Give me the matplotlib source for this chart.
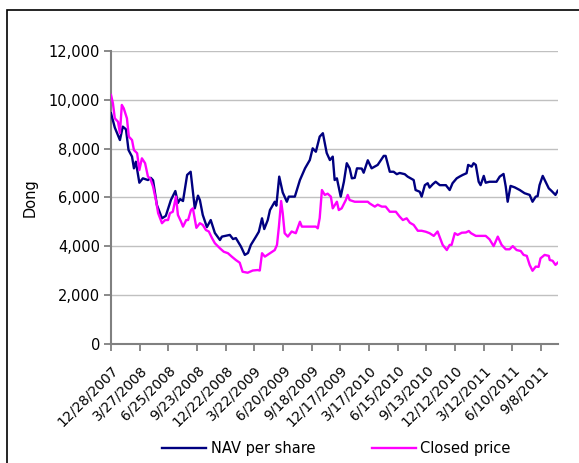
import pandas as pd
import matplotlib
matplotlib.use("Agg")
import matplotlib.pyplot as plt
from matplotlib.ticker import FuncFormatter
from matplotlib.patches import Rectangle
from matplotlib.transforms import ScaledTranslation

# NAV per share (date, Dong)
nav_dates = [
    "2007-12-28", "2008-01-09", "2008-01-25", "2008-02-03", "2008-02-13", "2008-02-21",
    "2008-03-03", "2008-03-09", "2008-03-15", "2008-03-26", "2008-04-06", "2008-04-22",
    "2008-05-01", "2008-05-08", "2008-05-20", "2008-06-05", "2008-06-17", "2008-07-03",
    "2008-07-17", "2008-07-25", "2008-08-01", "2008-08-10", "2008-08-23", "2008-09-03",
    "2008-09-16", "2008-09-26", "2008-10-02", "2008-10-11", "2008-10-24", "2008-11-05",
    "2008-11-18", "2008-12-04", "2008-12-10", "2009-01-04", "2009-01-14", "2009-01-23",
    "2009-02-08", "2009-02-20", "2009-03-02", "2009-03-11", "2009-03-27", "2009-04-05",
    "2009-04-15", "2009-04-22", "2009-05-03", "2009-05-10", "2009-05-25", "2009-05-30",
    "2009-06-08", "2009-06-19", "2009-07-02", "2009-07-08", "2009-07-27", "2009-08-12",
    "2009-08-28", "2009-09-12", "2009-09-21", "2009-10-01", "2009-10-13", "2009-10-23",
    "2009-11-04", "2009-11-14", "2009-11-23", "2009-11-29", "2009-12-06", "2009-12-18",
    "2009-12-28", "2010-01-06", "2010-01-15", "2010-01-22", "2010-01-31", "2010-02-07",
    "2010-02-22", "2010-02-28", "2010-03-13", "2010-03-25", "2010-04-13", "2010-05-02",
    "2010-05-08", "2010-05-21", "2010-06-02", "2010-06-12", "2010-06-21", "2010-07-07",
    "2010-07-16", "2010-08-04", "2010-08-10", "2010-08-23", "2010-08-29", "2010-09-08",
    "2010-09-17", "2010-09-23", "2010-10-03", "2010-10-12", "2010-10-25", "2010-11-13",
    "2010-11-25", "2010-12-04", "2010-12-17", "2010-12-26", "2011-01-05", "2011-01-17",
    "2011-01-22", "2011-02-02", "2011-02-08", "2011-02-15", "2011-02-24", "2011-03-02",
    "2011-03-12", "2011-03-18", "2011-03-30", "2011-04-21", "2011-05-01", "2011-05-13",
    "2011-05-20", "2011-05-26", "2011-06-04", "2011-06-17", "2011-07-03", "2011-07-18",
    "2011-08-03", "2011-08-12", "2011-08-22", "2011-08-28", "2011-09-03", "2011-09-13",
    "2011-09-22", "2011-10-02", "2011-10-11", "2011-10-23", "2011-10-30",
]
nav_values = [
    9450, 8860, 8350, 8900, 8790, 7940,
    7670, 7190, 7460, 6600, 6780, 6710,
    6800, 6700, 5690, 5140, 5240, 5890,
    6260, 5770, 5930, 5850, 6920, 7050,
    5550, 6070, 5890, 5280, 4780, 5070,
    4540, 4250, 4390, 4460, 4290, 4330,
    3980, 3640, 3720, 4050, 4390, 4590,
    5140, 4700, 5070, 5480, 5820, 5660,
    6850, 6200, 5820, 6030, 6030, 6710,
    7190, 7530, 8010, 7870, 8490, 8630,
    7820, 7530, 7670, 6710, 6780, 6030,
    6640, 7400, 7190, 6780, 6800, 7190,
    7180, 7010, 7520, 7190, 7330, 7700,
    7700, 7050, 7050, 6950, 7000, 6950,
    6850, 6710, 6300, 6230, 6030, 6500,
    6580, 6400, 6540, 6640, 6500, 6500,
    6300, 6580, 6780, 6850, 6920, 6990,
    7330, 7260, 7400, 7330, 6640, 6500,
    6880, 6600, 6640, 6640, 6850, 6960,
    6440, 5820, 6470, 6410, 6300, 6170,
    6100, 5820, 6030, 6050, 6500, 6880,
    6640, 6370, 6260, 6100, 6270,
]

# Closed price (date, Dong)
price_dates = [
    "2007-12-28", "2008-01-03", "2008-01-09", "2008-01-19", "2008-01-25", "2008-01-31",
    "2008-02-06", "2008-02-16", "2008-02-22", "2008-03-03", "2008-03-09", "2008-03-19",
    "2008-03-26", "2008-04-03", "2008-04-13", "2008-04-22", "2008-04-29", "2008-05-08",
    "2008-05-17", "2008-05-24", "2008-06-05", "2008-06-15", "2008-06-24", "2008-06-30",
    "2008-07-09", "2008-07-19", "2008-07-25", "2008-08-04", "2008-08-10", "2008-08-20",
    "2008-08-26", "2008-09-04", "2008-09-10", "2008-09-21", "2008-10-02", "2008-10-11",
    "2008-10-21", "2008-10-30", "2008-11-09", "2008-11-18", "2008-12-04", "2008-12-16",
    "2008-12-29", "2009-01-10", "2009-01-23", "2009-02-04", "2009-02-13", "2009-03-01",
    "2009-03-17", "2009-04-01", "2009-04-08", "2009-04-15", "2009-04-24", "2009-05-10",
    "2009-05-25", "2009-06-01", "2009-06-07", "2009-06-14", "2009-06-19", "2009-06-25",
    "2009-07-05", "2009-07-17", "2009-07-30", "2009-08-12", "2009-08-18", "2009-09-12",
    "2009-10-01", "2009-10-07", "2009-10-13", "2009-10-20", "2009-10-29", "2009-11-07",
    "2009-11-17", "2009-11-23", "2009-12-06", "2009-12-12", "2009-12-21", "2010-01-03",
    "2010-01-09", "2010-01-15", "2010-01-31", "2010-03-13", "2010-03-19", "2010-04-04",
    "2010-04-13", "2010-04-26", "2010-05-08", "2010-05-21", "2010-06-09", "2010-06-21",
    "2010-07-01", "2010-07-13", "2010-07-23", "2010-08-04", "2010-08-17", "2010-08-29",
    "2010-09-11", "2010-09-23", "2010-10-06", "2010-10-18", "2010-11-03", "2010-11-16",
    "2010-11-25", "2010-12-01", "2010-12-11", "2010-12-20", "2011-01-02", "2011-01-15",
    "2011-01-24", "2011-01-31", "2011-02-15", "2011-03-18", "2011-03-30", "2011-04-12",
    "2011-04-25", "2011-05-07", "2011-05-20", "2011-06-01", "2011-06-11", "2011-06-23",
    "2011-07-06", "2011-07-15", "2011-07-25", "2011-08-03", "2011-08-12", "2011-08-22",
    "2011-08-31", "2011-09-06", "2011-09-19", "2011-10-02", "2011-10-05", "2011-10-14",
    "2011-10-23", "2011-10-30",
]
price_values = [
    10200, 9860, 9240, 9100, 8630, 9790,
    9650, 9240, 8490, 8350, 7940, 7810,
    7120, 7600, 7400, 6850, 6780, 6440,
    5890, 5350, 4940, 5070, 5070, 5350,
    5410, 6030, 5280, 5000, 4800, 5070,
    5070, 5480, 5550, 4750, 4940, 4870,
    4660, 4600, 4330, 4120, 3910, 3770,
    3710, 3570, 3430, 3320, 2950, 2910,
    3000, 3020, 3000, 3710, 3570, 3710,
    3840, 4050, 4800, 5850, 5350, 4530,
    4390, 4600, 4530, 5000, 4800, 4800,
    4800, 4730, 5150, 6300, 6100, 6150,
    6030, 5550, 5820, 5480, 5550, 5890,
    6100, 5890, 5820, 5820, 5750, 5620,
    5700, 5620, 5620, 5410, 5410, 5210,
    5070, 5140, 4960, 4870, 4630, 4630,
    4590, 4530, 4420, 4600, 4050, 3840,
    4050, 4050, 4530, 4460, 4550, 4560,
    4620, 4530, 4420, 4420, 4280, 4000,
    4390, 4050, 3870, 3870, 4000, 3840,
    3800, 3640, 3600, 3230, 2990, 3160,
    3150, 3500, 3640, 3600, 3430, 3400,
    3230, 3320,
]

tick_labels = [
    "12/28/2007", "3/27/2008", "6/25/2008", "9/23/2008", "12/22/2008", "3/22/2009",
    "6/20/2009", "9/18/2009", "12/17/2009", "3/17/2010", "6/15/2010", "9/13/2010",
    "12/12/2010", "3/12/2011", "6/10/2011", "9/8/2011",
]

nav_x = pd.to_datetime(nav_dates)
price_x = pd.to_datetime(price_dates)
tick_x = pd.to_datetime(tick_labels, format="%m/%d/%Y")

fig = plt.figure(figsize=(5.79, 4.63), dpi=100)
ax = fig.add_axes([0.1917, 0.2577, 0.7715, 0.6321])

ax.plot(nav_x, nav_values, color="#000080", lw=1.7, label="NAV per share", zorder=3)
ax.plot(price_x, price_values, color="#FF00FF", lw=1.7, label="Closed price", zorder=3)

ax.set_xlim(nav_x[0], nav_x[-1])
ax.set_ylim(0, 12000)
ax.set_yticks(range(0, 12001, 2000))
ax.yaxis.set_major_formatter(FuncFormatter(lambda v, p: f"{v:,.0f}"))
ax.set_xticks(tick_x)
ax.set_xticklabels(tick_labels, rotation=45, ha="right", va="top", rotation_mode="anchor")
shift = ScaledTranslation(-0.08, 0, fig.dpi_scale_trans)
for lab in ax.get_xticklabels():
    lab.set_transform(lab.get_transform() + shift)

ax.grid(True, axis="y", color="#c0c0c0", lw=1)
ax.set_axisbelow(True)
for s in ["top", "right"]:
    ax.spines[s].set_visible(False)
for s in ["left", "bottom"]:
    ax.spines[s].set_color("#808080")
    ax.spines[s].set_linewidth(1.5)
ax.tick_params(axis="both", colors="#808080", length=5, width=1.3, labelcolor="black")
ax.tick_params(axis="y", labelsize=10.5, pad=3)
ax.tick_params(axis="x", labelsize=10, pad=9)
ax.set_ylabel("Dong", fontsize=10.5, labelpad=8)

fig.legend(loc="center", bbox_to_anchor=(0.581, 0.031), ncol=2, frameon=False,
           fontsize=10.5, handlelength=3.0, columnspacing=3.9, handletextpad=0.3)

# outer chart border (cut off at right/bottom)
fig.patches.append(Rectangle((7 / 579, -0.1), 1.2, 1.1 - 10 / 463,
                             transform=fig.transFigure, fill=False,
                             edgecolor="black", lw=1.2))

fig.savefig("out.png", dpi=100)
